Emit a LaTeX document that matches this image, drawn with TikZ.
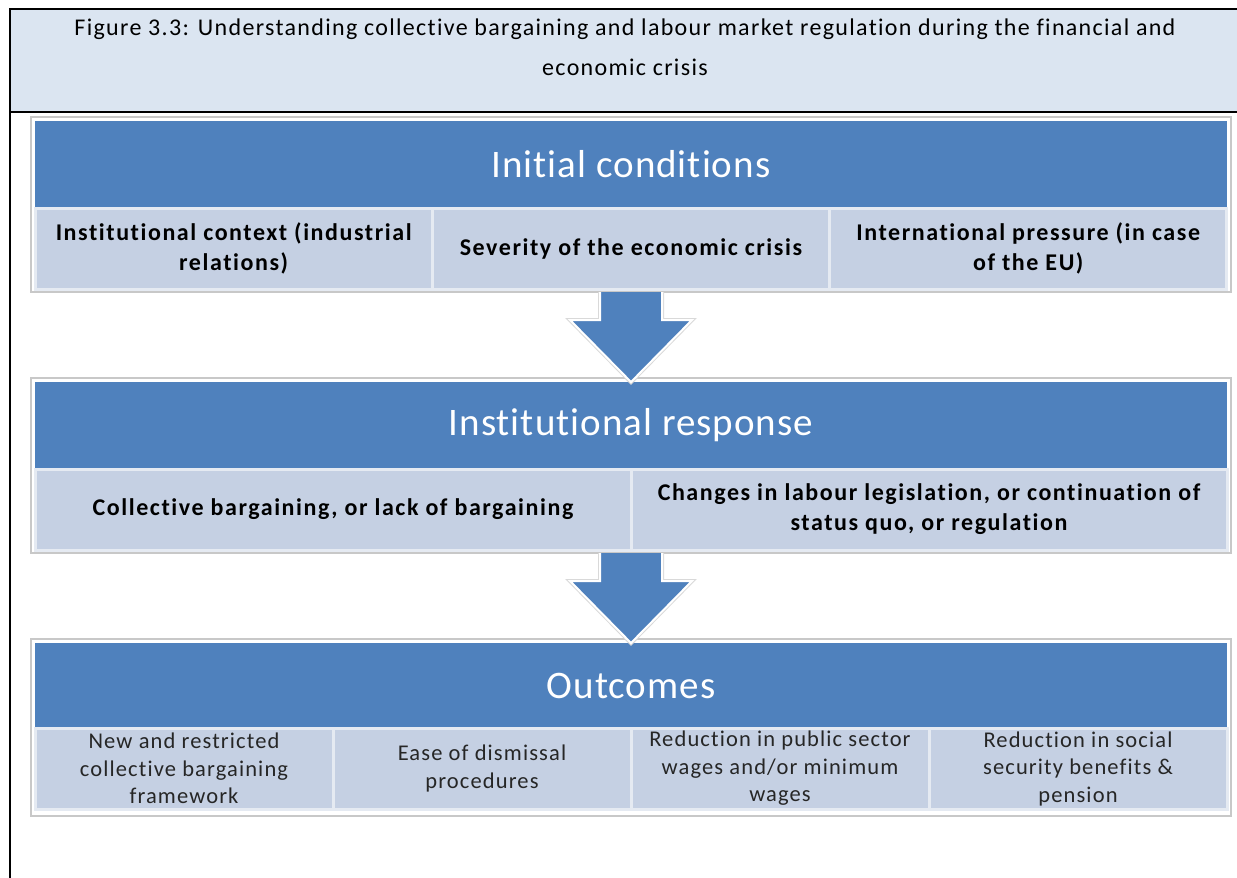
\documentclass[tikz,border=0pt]{standalone}
\usepackage{fontspec}
\setmainfont{Carlito}[Ligatures=NoCommon]
\newfontfamily\capfont[LetterSpace=5.5,Ligatures=NoCommon]{Carlito}
\newfontfamily\headfont[LetterSpace=2.6,Ligatures=NoCommon]{Carlito}
\newfontfamily\cellfont[LetterSpace=6.5,Ligatures=NoCommon]{Carlito}
\newfontfamily\outfont[LetterSpace=5,Ligatures=NoCommon]{Carlito}
\usetikzlibrary{positioning,calc}
\definecolor{hdblue}{RGB}{79,129,189}
\definecolor{cellblue}{RGB}{197,208,227}
\definecolor{capblue}{RGB}{219,229,241}
\definecolor{rimgray}{RGB}{200,200,200}

\begin{document}
\begin{tikzpicture}[x=1pt,y=-1pt,
  panel/.style={draw=rimgray,line width=1.2pt,fill=white,minimum width=1200pt,minimum height=175pt,inner sep=0pt,outer sep=0pt,anchor=north west},
  head/.style={fill=hdblue,text=white,minimum width=1192pt,minimum height=87pt,inner sep=0pt,outer sep=0pt,font=\headfont\fontsize{39}{44}\selectfont},
  cell/.style={fill=cellblue,draw=cellblue!45!white,line width=3pt,minimum height=81pt,inner sep=0pt,outer sep=0pt,align=center,font=\cellfont\bfseries\fontsize{24}{30}\selectfont},
  smallcell/.style={cell,font=\outfont\fontsize{22.5}{27.5}\selectfont,text=black!85},
  downarrow/.style={fill=hdblue,draw=white,line width=2pt,preaction={draw=rimgray!70,line width=4pt}}]
\useasboundingbox (0,0) rectangle (1237,878);

% caption frame
\fill[capblue] (10,9) rectangle (1237,112);
\draw[line width=2pt] (1237,9) -- (10,9) -- (10,878);
\draw[line width=2pt] (10,112) -- (1237,112);
\node (cap) at (625,47) [align=center,font=\capfont\fontsize{24}{40}\selectfont]
  {Figure 3.3: Understanding collective bargaining and labour market regulation during the financial and\\economic crisis};

% initial conditions
\node (p1) [panel] at (31,117) {};
\node (h1) [head,below=4pt of p1.north] {Initial conditions};
\node (c11) [cell,minimum width=397.3pt,anchor=north west] at (h1.south west) {Institutional context (industrial\\relations)};
\node (c12) [cell,minimum width=397.3pt,right=0pt of c11] {Severity of the economic crisis};
\node (c13) [cell,minimum width=397.3pt,right=0pt of c12] {International pressure (in case\\of the EU)};

% institutional response
\node (p2) [panel,minimum height=175pt] at (31,378) {};
\node (h2) [head,below=4pt of p2.north] {Institutional response};
\node (c21) [cell,minimum width=596pt,anchor=north west] at (h2.south west) {Collective bargaining, or lack of bargaining};
\node (c22) [cell,minimum width=596pt,right=0pt of c21] {Changes in labour legislation, or continuation of\\status quo, or regulation};

% outcomes
\node (p3) [panel,minimum height=177pt] at (31,639) {};
\node (h3) [head,below=4pt of p3.north,minimum height=85pt] {Outcomes};
\node (c31) [smallcell,minimum width=298pt,anchor=north west] at (h3.south west) {New and restricted\\collective bargaining\\framework};
\node (c32) [smallcell,minimum width=298pt,right=0pt of c31] {Ease of dismissal\\procedures};
\node (c33) [smallcell,minimum width=298pt,right=0pt of c32] {Reduction in public sector\\wages and/or minimum\\wages};
\node (c34) [smallcell,minimum width=298pt,right=0pt of c33] {Reduction in social\\security benefits \&\\pension};

% block arrows between the stages
\foreach \a/\b in {p1/h2,p2/h3}
  \draw[downarrow] ($(\a.south)+(-31,0)$) -- ++(0,28) -- ++(-30,0) -- (\b.north)
    -- ($(\a.south)+(61,28)$) -- ++(-30,0) -- ($(\a.south)+(31,0)$);
\end{tikzpicture}
\end{document}
